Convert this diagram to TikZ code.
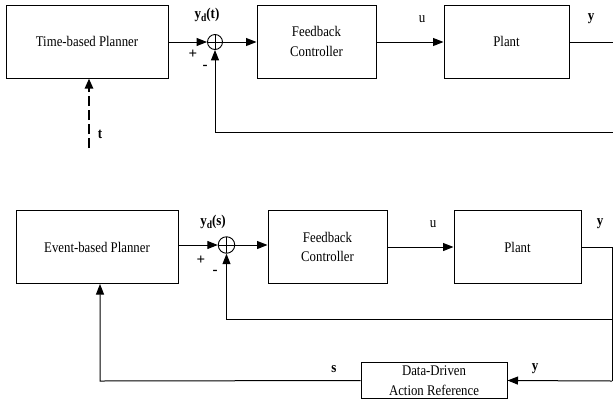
\documentclass[tikz,border=0pt]{standalone}
\usepackage{fontspec}
\setmainfont{Liberation Serif}
\usetikzlibrary{arrows.meta}
% text in this drawing is set slightly tall
\newcommand\vst[1]{\scalebox{1}[1.15]{#1}}
\newcommand\ysub[1]{\textbf{y}\raisebox{-3pt}{\fontsize{9.5}{9.5}\selectfont\bfseries d}\textbf{(#1)}}

\tikzset{
  blk/.style={draw, line width=1pt, minimum width=#1, minimum height=73pt,
    inner sep=0pt, align=center, font=\fontsize{12.8}{19.5}\selectfont},
  sumj/.style={draw, circle, line width=0.9pt, minimum size=#1, inner sep=0pt,
    path picture={\draw[line width=0.8pt]
      (path picture bounding box.north) -- (path picture bounding box.south)
      (path picture bounding box.west) -- (path picture bounding box.east);}},
  lbl/.style={inner sep=0pt, font=\fontsize{13}{15}\selectfont},
  sgn/.style={inner sep=0pt, font=\fontsize{15}{17}\selectfont\bfseries},
  wire/.style={line width=1pt},
  arr/.style={wire, -{Triangle[length=10.5pt,width=8pt]}},
  dasharr/.style={line width=2.4pt, dash pattern=on 10pt off 4pt,
    -{Triangle[length=10pt,width=8pt]}},
}

\begin{document}
\begin{tikzpicture}[x=1pt, y=-1pt]
\useasboundingbox (0,0) rectangle (613,400);

% ---------- time-based scheme ----------
\node[blk=162pt] (tp) at (87,41.5) {\vst{Time-based Planner}};
\node[sumj=15pt] (s1) at (215,42) {};
\node[blk=119pt] (fc1) at (316.5,41.5) {\vst{Feedback}\\\vst{Controller}};
\node[blk=125pt] (pl1) at (506.5,41.5) {\vst{Plant}};

\node[lbl] (yd1) at (207,15) {\vst{\ysub{t}}};
\node[sgn] (p1) at (193,54) {+};
\node[sgn] (m1) at (205,67) {-};
\node[lbl] (u1) at (422,19) {\vst{u}};
\node[lbl] (y1) at (591,19) {\vst{\textbf{y}}};
\node[lbl] (t1) at (100,134) {\vst{\textbf{t}}};

\coordinate (r1) at (613,42);
\coordinate (r1b) at (613,132);
\coordinate (tin) at (89,148);

\draw[arr] (tp.east |- s1) -- (s1.west);
\draw[arr] (s1.east) -- (s1 -| fc1.west);
\draw[arr] (fc1.east |- s1) -- (s1 -| pl1.west);
\draw[wire] (pl1.east |- r1) -- (r1);
\draw[arr] (r1b) -- (s1.south |- r1b) -- (s1.south);
\draw[dasharr] (tin) -- (tin |- tp.south);

% ---------- event-based scheme ----------
\node[blk=162pt] (ep) at (97,247) {\vst{Event-based Planner}};
\node[sumj=16.5pt] (s2) at (226.5,245) {};
\node[blk=119pt] (fc2) at (327.5,247) {\vst{Feedback}\\\vst{Controller}};
\node[blk=127pt] (pl2) at (517.5,247) {\vst{Plant}};
\node[draw, line width=1pt, minimum width=146pt, minimum height=35.5pt,
  inner sep=0pt, align=center, font=\fontsize{12.8}{19.5}\selectfont]
  (dd) at (434,380.5) {\vst{Data-Driven}\\\vst{Action Reference}};

\node[lbl] (yd2) at (213,222) {\vst{\ysub{s}}};
\node[sgn] (p2) at (201,260) {+};
\node[sgn] (m2) at (215,272) {-};
\node[lbl] (u2) at (433,224) {\vst{u}};
\node[lbl] (y2) at (600,224) {\vst{\textbf{y}}};
\node[lbl] (s3) at (334,369) {\vst{\textbf{s}}};
\node[lbl] (y3) at (535,369) {\vst{\textbf{y}}};

\coordinate (r2) at (612,247);
\coordinate (r2m) at (612,319);
\coordinate (r2b) at (612,381);
\coordinate (fbx) at (100,381);

\draw[arr] (ep.east |- s2) -- (s2.west);
\draw[arr] (s2.east) -- (s2 -| fc2.west);
\draw[arr] (fc2.east) -- (pl2.west);
\draw[wire] (pl2.east) -- (r2) -- (r2b);
\draw[arr] (r2m) -- (s2.south |- r2m) -- (s2.south);
\draw[arr] (r2b) -- (dd.east);
\draw[arr] (dd.west) -- (fbx) -- (fbx |- ep.south);
\end{tikzpicture}
\end{document}
